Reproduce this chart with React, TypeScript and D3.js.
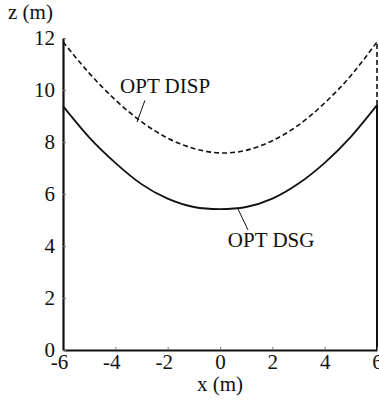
import * as d3 from "d3";
import { useEffect, useRef } from "react";

const xs = [-6, -5, -4, -3, -2, -1, 0, 1, 2, 3, 4, 5, 6];
const optDsg = [9.38, 8.18, 7.2, 6.38, 5.82, 5.5, 5.42, 5.5, 5.82, 6.4, 7.2, 8.2, 9.42];
const optDisp = [11.85, 10.65, 9.62, 8.78, 8.15, 7.75, 7.58, 7.68, 8.05, 8.65, 9.5, 10.55, 11.85];
const xTicks = [-6, -4, -2, 0, 2, 4, 6];
const zTicks = [0, 2, 4, 6, 8, 10, 12];
const seriesNames = ["OPT DSG", "OPT DISP"];

interface Pt {
	x: number;
	z: number;
}

function App() {
	const ref = useRef<SVGSVGElement>(null);
	const width = 379;
	const height = 403;
	const font = "Liberation Serif, Times New Roman, Times, DejaVu Serif, serif";
	const fs = "21px";

	useEffect(() => {
		const svg = d3.select(ref.current);
		svg.selectAll("*").remove();

		const x = d3.scaleLinear().domain([-6, 6]).range([63, 377]);
		const y = d3.scaleLinear().domain([0, 12]).range([350, 38]);

		const dsg: Pt[] = xs.map((v, i) => ({ x: v, z: optDsg[i] }));
		const disp: Pt[] = xs.map((v, i) => ({ x: v, z: optDisp[i] }));

		const line = d3
			.line<Pt>()
			.x((d) => x(d.x))
			.y((d) => y(d.z))
			.curve(d3.curveNatural);

		// right end closing lines
		const last = xs.length - 1;
		svg.append("line")
			.attr("x1", x(6))
			.attr("x2", x(6))
			.attr("y1", y(0))
			.attr("y2", y(optDsg[last]))
			.attr("stroke", "#111")
			.attr("stroke-width", 2);
		svg.append("line")
			.attr("x1", x(6))
			.attr("x2", x(6))
			.attr("y1", y(optDsg[last]))
			.attr("y2", y(optDisp[last]))
			.attr("stroke", "#111")
			.attr("stroke-width", 1.6)
			.attr("stroke-dasharray", "5,3");

		svg.append("path")
			.datum(dsg)
			.attr("fill", "none")
			.attr("stroke", "#111")
			.attr("stroke-width", 1.8)
			.attr("d", line);

		svg.append("path")
			.datum(disp)
			.attr("fill", "none")
			.attr("stroke", "#111")
			.attr("stroke-width", 1.6)
			.attr("stroke-dasharray", "5,3")
			.attr("d", line);

		// axes
		const xAxis = svg
			.append("g")
			.attr("transform", "translate(0," + y(0) + ")")
			.call(
				d3
					.axisBottom(x)
					.tickValues(xTicks)
					.tickSizeInner(-3)
					.tickSizeOuter(0)
					.tickPadding(4)
					.tickFormat((d) => String(d))
			);
		xAxis.select(".domain").attr("stroke", "#111").attr("stroke-width", 2.2);
		xAxis.selectAll(".tick line").attr("stroke", "#777");
		xAxis.selectAll<SVGTextElement, number>(".tick text")
			.style("font-family", font)
			.style("font-size", fs)
			.attr("fill", "#111")
			.attr("dx", (d) => (d < 0 ? -4 : 0));

		const yAxis = svg
			.append("g")
			.attr("transform", "translate(" + x(-6) + ",0)")
			.call(
				d3
					.axisLeft(y)
					.tickValues(zTicks)
					.tickSizeInner(-3)
					.tickSizeOuter(0)
					.tickPadding(8)
					.tickFormat((d) => String(d))
			);
		yAxis.select(".domain").attr("stroke", "#111").attr("stroke-width", 2.2);
		yAxis.selectAll(".tick line").attr("stroke", "#777");
		yAxis.selectAll(".tick text")
			.style("font-family", font)
			.style("font-size", fs)
			.attr("fill", "#111");

		// axis titles
		svg.append("text")
			.attr("x", 220)
			.attr("y", 391)
			.attr("text-anchor", "middle")
			.style("font-family", font)
			.style("font-size", fs)
			.attr("fill", "#111")
			.text("x (m)");
		svg.append("text")
			.attr("x", 8)
			.attr("y", 19)
			.style("font-family", font)
			.style("font-size", fs)
			.attr("fill", "#111")
			.text("z (m)");

		// series labels with leaders
		const labels = [
			{ name: seriesNames[1], tx: -3.82, tz: 9.88, l1: [-2.87, 9.6], l2: [-3.17, 8.77] },
			{ name: seriesNames[0], tx: 0.3, tz: 3.96, l1: [0.69, 5.42], l2: [1.07, 4.62] },
		];
		labels.forEach((lb) => {
			svg.append("line")
				.attr("x1", x(lb.l1[0]))
				.attr("y1", y(lb.l1[1]))
				.attr("x2", x(lb.l2[0]))
				.attr("y2", y(lb.l2[1]))
				.attr("stroke", "#111")
				.attr("stroke-width", 1);
			svg.append("text")
				.attr("x", x(lb.tx))
				.attr("y", y(lb.tz))
				.style("font-family", font)
				.style("font-size", fs)
				.attr("fill", "#111")
				.text(lb.name);
		});
	}, []);

	return (
		<svg
			ref={ref}
			width={width}
			height={height}
			style={{ position: "absolute", left: 0, top: 0, background: "white" }}
		/>
	);
}

export default App;
